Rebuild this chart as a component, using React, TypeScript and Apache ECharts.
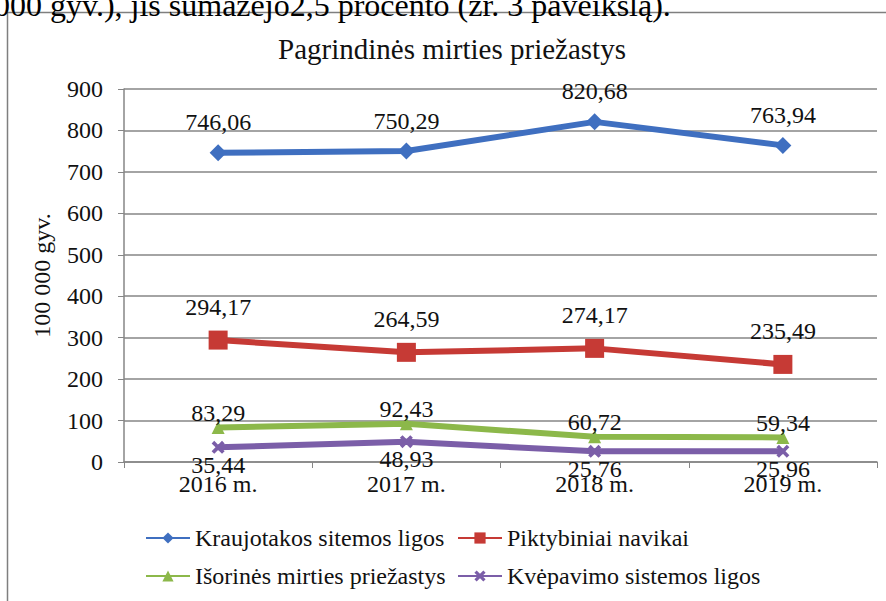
import React, { useEffect, useRef } from "react";
import * as echarts from "echarts";

const categories = ["2016 m.", "2017 m.", "2018 m.", "2019 m."];
const seriesNames = [
  "Kraujotakos sitemos ligos",
  "Piktybiniai navikai",
  "Išorinės mirties priežastys",
  "Kvėpavimo sistemos ligos",
];
const kraujotakos = [746.06, 750.29, 820.68, 763.94];
const piktybiniai = [294.17, 264.59, 274.17, 235.49];
const isorines = [83.29, 92.43, 60.72, 59.34];
const kvepavimo = [35.44, 48.93, 25.76, 25.96];
const yTickValues = [0, 100, 200, 300, 400, 500, 600, 700, 800, 900];

const SERIF = "Liberation Serif";
const xSymbol =
  "path://M0,2 L2,0 L5,3 L8,0 L10,2 L7,5 L10,8 L8,10 L5,7 L2,10 L0,8 L3,5 Z";

const fmt = (v: number) => v.toFixed(2).replace(".", ",");

export default function App() {
  const ref = useRef<HTMLDivElement>(null);
  useEffect(() => {
    if (!ref.current) return;
    const chart = echarts.init(ref.current, null, { renderer: "svg" });
    const allData = [kraujotakos, piktybiniai, isorines, kvepavimo];
    const colors = ["#3f6fc0", "#c63a35", "#8cb84a", "#7b5ea8"];
    const symbols = ["diamond", "rect", "triangle", xSymbol];
    const sizes = [17, 19, 13, 13];
    const labelPos = ["top", "top", "top", "bottom"];
    const labelDist = [10, 12, -4, -1];
    const legendPos = [
      [145, 538],
      [457, 538],
      [145, 576],
      [457, 576],
    ];

    chart.setOption({
      animation: false,
      backgroundColor: "#fff",
      textStyle: { fontFamily: SERIF, color: "#111" },
      title: {
        text: "Pagrindinės mirties priežastys",
        left: 273,
        top: 29,
        textStyle: { fontFamily: SERIF, fontSize: 29, fontWeight: "normal", color: "#111" },
      },
      grid: { left: 124, right: 9, top: 89, bottom: 139 },
      xAxis: {
        type: "category",
        data: categories,
        boundaryGap: true,
        axisLine: { lineStyle: { color: "#868686", width: 1.5 } },
        axisTick: { show: true, length: 6, lineStyle: { color: "#868686" } },
        axisLabel: { fontFamily: SERIF, fontSize: 24, color: "#111", margin: 10 },
      },
      yAxis: {
        type: "value",
        min: yTickValues[0],
        max: yTickValues[yTickValues.length - 1],
        interval: yTickValues[1] - yTickValues[0],
        name: "100 000 gyv.",
        nameLocation: "middle",
        nameRotate: 90,
        nameGap: 70,
        nameTextStyle: { fontFamily: SERIF, fontSize: 24, color: "#111" },
        axisLine: { show: true, lineStyle: { color: "#868686", width: 1.5 } },
        axisTick: { show: true, length: 6, lineStyle: { color: "#868686" } },
        splitLine: { lineStyle: { color: "#868686", width: 1.5 } },
        axisLabel: { fontFamily: SERIF, fontSize: 24, color: "#111", margin: 21 },
      },
      legend: seriesNames.map((n, i) => ({
        data: [n],
        left: legendPos[i][0],
        top: legendPos[i][1] - 12,
        itemWidth: 44,
        itemHeight: 14,
        padding: 0,
        textStyle: { fontFamily: SERIF, fontSize: 24, color: "#111" },
      })),
      graphic: [
        {
          type: "rect",
          shape: { x: 7.5, y: 12.5, width: 900, height: 640 },
          style: { fill: "none", stroke: "#7f7f7f", lineWidth: 1.5 },
          silent: true,
          z: 100,
        },
        {
          type: "text",
          x: -6,
          y: 21,
          style: {
            text: "000 gyv.), jis sumažėjo2,5 procento (žr. 3 paveikslą).",
            font: `32px 'Liberation Serif', serif`,
            fill: "#000",
            verticalAlign: "bottom",
          },
          z: 100,
        },
      ],
      series: seriesNames.map((n, i) => ({
        name: n,
        type: "line",
        data: allData[i],
        symbol: symbols[i],
        symbolSize: sizes[i],
        lineStyle: { color: colors[i], width: 6 },
        itemStyle: { color: colors[i] },
        label: {
          show: true,
          position: labelPos[i],
          distance: labelDist[i],
          fontFamily: SERIF,
          fontSize: 24,
          color: "#111",
          formatter: (p: any) => fmt(p.value),
        },
      })),
    });
    return () => chart.dispose();
  }, []);
  return (
    <div
      ref={ref}
      style={{ position: "absolute", left: 0, top: 0, width: 886, height: 601 }}
    />
  );
}
